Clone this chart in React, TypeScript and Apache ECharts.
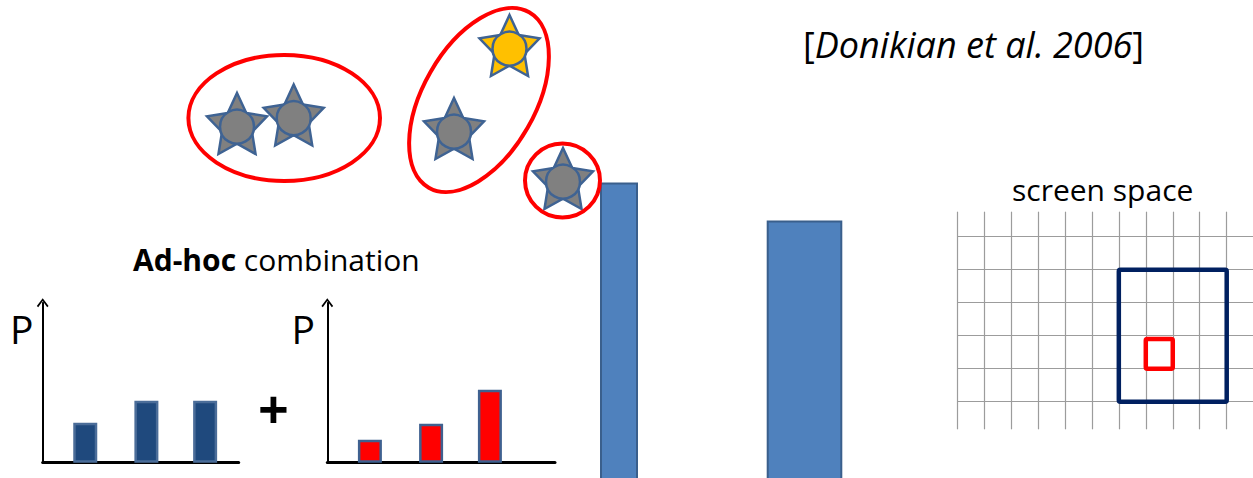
import React, { useEffect, useRef } from 'react';
import * as echarts from 'echarts';

// ---- data (page / axis units) ----
const grayStars: number[][] = [[237, 123.5], [293.7, 115], [454, 128.5], [563, 178.5]];
const goldStars: number[][] = [[509.5, 45.5]];
const slotPositions = [0.71, 1.73, 2.71];
const blueP = [4.0, 6.2, 6.2];
const redP = [2.3, 3.9, 7.3];
const tallBars = [62.6, 54.8];
const tallCategories = ['A'];
// [x0, y0, x1, y1] in screen-grid cells
const screenBoxes: number[][] = [[6, 0, 10, 4], [7, 1, 8, 1.9]];

const FONT = '"Open Sans", "Noto Sans", sans-serif';
const CHEVRON = 'path://M6,0L12,8L10.6,9.2L6,2.8L1.4,9.2L0,8Z';

function starPath(): string {
  const pts: string[] = [];
  for (let i = 0; i < 10; i++) {
    const r = i % 2 === 0 ? 50 : 25;
    const a = -Math.PI / 2 + (i * Math.PI) / 5;
    pts.push(`${(50 + r * Math.cos(a)).toFixed(2)},${(50 + r * Math.sin(a)).toFixed(2)}`);
  }
  return 'path://M' + pts.join('L') + 'Z';
}

export default function App() {
  const ref = useRef<HTMLDivElement>(null);
  useEffect(() => {
    const chart = echarts.init(ref.current as HTMLDivElement, null, { renderer: 'svg' });
    const STAR = starPath();
    const off = { show: false };
    const pX = (gi: number, max: number) => ({
      type: 'value', gridIndex: gi, min: 0, max,
      axisLine: { show: true, onZero: false, lineStyle: { color: '#000', width: 3 } },
      axisTick: off, axisLabel: off, splitLine: off,
    });
    const pY = (gi: number) => ({
      type: 'value', gridIndex: gi, min: 0, max: 16,
      axisLine: { show: true, symbol: ['none', CHEVRON], symbolSize: [12, 9], lineStyle: { color: '#000', width: 2 } },
      axisTick: off, axisLabel: off, splitLine: off,
    });
    const gridLine = { color: '#9c9c9c', width: 1.2 };
    const starStyle = (color: string) => ({ color, borderColor: '#3F6393', borderWidth: 2.5, opacity: 1 });

    const option: any = {
      animation: false,
      backgroundColor: '#ffffff',
      grid: [
        { left: 0, top: 0, width: 1253, height: 478 },
        { left: 42.7, top: 302.7, width: 196, height: 160 },
        { left: 327.3, top: 302.7, width: 227.7, height: 160 },
        { left: 600, top: 0, width: 38, height: 478 },
        { left: 766.7, top: 0, width: 75.6, height: 478 },
        { left: 957, top: 211.7, width: 296, height: 217.6 },
        { left: 957, top: 236.7, width: 296, height: 165 },
      ],
      xAxis: [
        { type: 'value', gridIndex: 0, min: 0, max: 1253, show: false },
        pX(1, 3.27),
        pX(2, 3.795),
        { type: 'category', gridIndex: 3, data: tallCategories, show: false },
        { type: 'category', gridIndex: 4, data: tallCategories, show: false },
        {
          type: 'value', gridIndex: 5, min: 0, max: 10.975, interval: 1,
          axisLine: off, axisTick: off, axisLabel: off,
          splitLine: { show: true, showMinLine: true, showMaxLine: false, lineStyle: gridLine },
        },
        { type: 'value', gridIndex: 6, min: 0, max: 10.975, show: false },
      ],
      yAxis: [
        { type: 'value', gridIndex: 0, min: 0, max: 478, inverse: true, show: false },
        pY(1),
        pY(2),
        { type: 'value', gridIndex: 3, min: 2, max: 100, show: false },
        { type: 'value', gridIndex: 4, min: 2, max: 100, show: false },
        { type: 'value', gridIndex: 5, min: 0, max: 1, show: false },
        {
          type: 'value', gridIndex: 6, min: 0, max: 5, interval: 1,
          axisLine: off, axisTick: off, axisLabel: off,
          splitLine: { show: true, showMinLine: true, showMaxLine: true, lineStyle: gridLine },
        },
      ],
      series: [
        {
          type: 'bar', xAxisIndex: 3, yAxisIndex: 3, barWidth: 38, z: 3, clip: false,
          data: [tallBars[0]],
          itemStyle: { color: '#4F81BD', borderColor: '#3A5F8C', borderWidth: 2 },
        },
        {
          type: 'bar', xAxisIndex: 4, yAxisIndex: 4, barWidth: 75.6, z: 3, clip: false,
          data: [tallBars[1]],
          itemStyle: { color: '#4F81BD', borderColor: '#3A5F8C', borderWidth: 2 },
        },
        {
          type: 'bar', xAxisIndex: 1, yAxisIndex: 1, barWidth: 24,
          data: slotPositions.map((x, i) => [x, blueP[i]]),
          itemStyle: { color: '#1F497D', borderColor: '#4B6D99', borderWidth: 2.5 },
        },
        {
          type: 'bar', xAxisIndex: 2, yAxisIndex: 2, barWidth: 24,
          data: slotPositions.map((x, i) => [x, redP[i]]),
          itemStyle: { color: '#FF0000', borderColor: '#3F6190', borderWidth: 2.5 },
        },
        {
          type: 'custom', xAxisIndex: 6, yAxisIndex: 6, clip: false, z: 5,
          data: screenBoxes,
          renderItem: (params: any, api: any) => {
            const p0 = api.coord([api.value(0), api.value(3)]);
            const p1 = api.coord([api.value(2), api.value(1)]);
            const view = params.dataIndex === 0;
            return {
              type: 'rect',
              shape: { x: p0[0], y: p0[1], width: p1[0] - p0[0], height: p1[1] - p0[1], r: 1.5 },
              style: { fill: 'none', stroke: view ? '#002060' : '#FF0000', lineWidth: 4.5, lineJoin: 'round' },
            };
          },
        },
        {
          type: 'scatter', xAxisIndex: 0, yAxisIndex: 0, z: 6,
          symbol: STAR, symbolSize: [60, 61],
          data: grayStars, itemStyle: starStyle('#808080'),
        },
        {
          type: 'scatter', xAxisIndex: 0, yAxisIndex: 0, z: 6,
          symbol: STAR, symbolSize: [60, 61],
          data: goldStars, itemStyle: starStyle('#FFC000'),
        },
        {
          type: 'scatter', xAxisIndex: 0, yAxisIndex: 0, z: 7,
          symbol: 'circle', symbolSize: 34, symbolOffset: [0, 3.2],
          data: grayStars, itemStyle: starStyle('#808080'),
        },
        {
          type: 'scatter', xAxisIndex: 0, yAxisIndex: 0, z: 7,
          symbol: 'circle', symbolSize: 34, symbolOffset: [0, 3.2],
          data: goldStars, itemStyle: starStyle('#FFC000'),
        },
      ],
      graphic: [
        {
          type: 'ellipse', z: 100, shape: { cx: 284.2, cy: 118, rx: 95.8, ry: 63 },
          style: { fill: 'none', stroke: '#FF0000', lineWidth: 4 },
        },
        {
          type: 'ellipse', z: 100, x: 479, y: 100, rotation: -0.52,
          shape: { cx: 0, cy: 0, rx: 56, ry: 101 },
          style: { fill: 'none', stroke: '#FF0000', lineWidth: 4 },
        },
        {
          type: 'ellipse', z: 100, shape: { cx: 562.5, cy: 180.5, rx: 37.5, ry: 37 },
          style: { fill: 'none', stroke: '#FF0000', lineWidth: 4 },
        },
        {
          type: 'text', z: 100, x: 803, y: 44,
          style: {
            text: '{n|[}{i|Donikian et al. 2006}{n|]}',
            align: 'left', verticalAlign: 'middle', fill: '#000',
            rich: {
              n: { fontFamily: FONT, fontSize: 36, fill: '#000' },
              i: { fontFamily: FONT, fontSize: 36, fontStyle: 'italic', fill: '#000' },
            },
          },
        },
        {
          type: 'text', z: 100, x: 133, y: 259,
          style: {
            text: '{b|Ad-hoc}{n| combination}',
            align: 'left', verticalAlign: 'middle', fill: '#000',
            rich: {
              b: { fontFamily: FONT, fontSize: 30, fontWeight: 'bold', fill: '#000' },
              n: { fontFamily: FONT, fontSize: 30, fill: '#000' },
            },
          },
        },
        {
          type: 'text', z: 100, x: 1012, y: 189,
          style: { text: 'screen space', fontFamily: FONT, fontSize: 30, fill: '#000', align: 'left', verticalAlign: 'middle' },
        },
        {
          type: 'text', z: 100, x: 10, y: 328,
          style: { text: 'P', fontFamily: FONT, fontSize: 39, fill: '#000', align: 'left', verticalAlign: 'middle' },
        },
        {
          type: 'text', z: 100, x: 291.5, y: 328,
          style: { text: 'P', fontFamily: FONT, fontSize: 39, fill: '#000', align: 'left', verticalAlign: 'middle' },
        },
        {
          type: 'text', z: 100, x: 273.5, y: 408,
          style: { text: '+', fontFamily: FONT, fontSize: 54, fontWeight: 'bold', fill: '#000', align: 'center', verticalAlign: 'middle' },
        },
      ],
    };
    chart.setOption(option);
    return () => chart.dispose();
  }, []);
  return <div ref={ref} style={{ position: 'fixed', left: 0, top: 0, width: 1253, height: 478 }} />;
}
